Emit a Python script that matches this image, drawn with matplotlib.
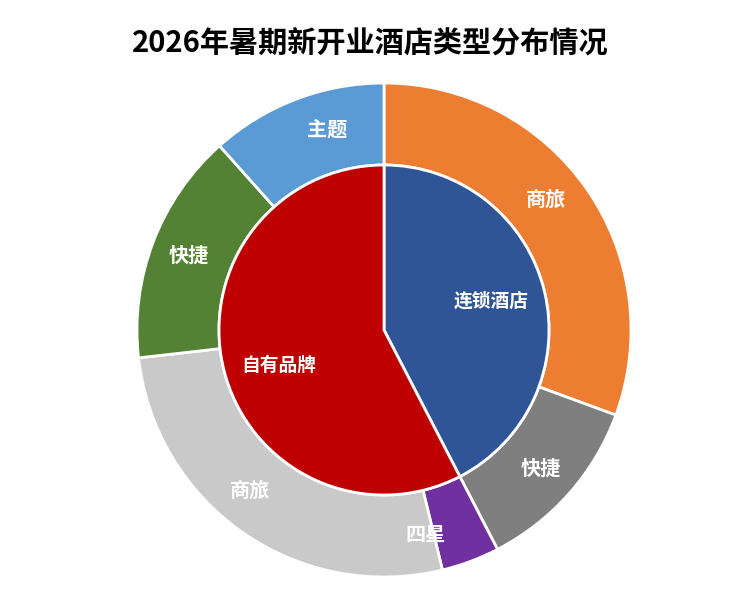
import numpy as np
import matplotlib
matplotlib.use("Agg")
import matplotlib.pyplot as plt

plt.rcParams['font.family'] = ['Noto Sans CJK SC', 'DejaVu Sans']

title = "2026年暑期新开业酒店类型分布情况"
inner_labels = ["连锁酒店", "自有品牌"]
inner_values = [42.4, 57.6]
inner_colors = ["#2F5597", "#BF0000"]

outer_labels = ["商旅", "快捷", "四星", "商旅", "快捷", "主题"]
outer_values = [30.6, 11.8, 3.8, 27.0, 15.2, 11.6]
outer_colors = ["#ED7D31", "#7F7F7F", "#7030A0", "#C9C9C9", "#548235", "#5B9BD5"]

W, H = 741, 594
fig = plt.figure(figsize=(W / 100, H / 100), dpi=100)
cx, cy, R = 384, 330, 247
ax = fig.add_axes([(cx - R) / W, (H - cy - R) / H, 2 * R / W, 2 * R / H])
ax.axis('off')

r_in = 0.668
wedge_kw = dict(edgecolor='white', linewidth=2)

ow, _ = ax.pie(outer_values, radius=1.0, colors=outer_colors, startangle=90,
               counterclock=False, wedgeprops=dict(width=1 - r_in, **wedge_kw))
iw, _ = ax.pie(inner_values, radius=r_in, colors=inner_colors, startangle=90,
               counterclock=False, wedgeprops=wedge_kw)
ax.set_xlim(-1, 1)
ax.set_ylim(-1, 1)

# small angular nudges of the label anchors (degrees, counter-clockwise positive)
inner_nudge = [1.5, 5]
outer_nudge = [4, 0, -9, -5, 0, -5]

def place(wedges, labels, nudges, r, size):
    for w, lab, d in zip(wedges, labels, nudges):
        mid = np.deg2rad((w.theta1 + w.theta2) / 2 + d)
        ax.text(r * np.cos(mid), r * np.sin(mid), lab, ha='center', va='center',
                color='white', fontsize=size, fontweight='bold')

place(iw, inner_labels, inner_nudge, 0.45, 13.5)
place(ow, outer_labels, outer_nudge, 0.845, 14.5)

fig.text(0.5, (H - 44) / H, title, ha='center', va='center',
         fontsize=21, fontweight='bold', color='black')

fig.savefig("out.png", dpi=100, facecolor='white')
